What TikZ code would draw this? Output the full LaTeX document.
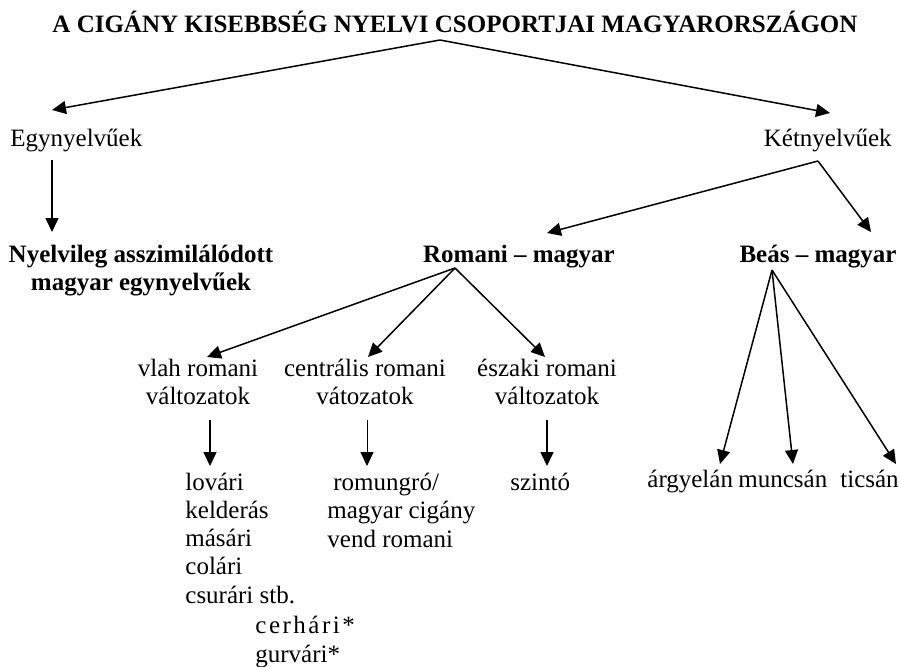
\documentclass[tikz,border=0pt]{standalone}
\usepackage{fontspec}
\setmainfont{Liberation Serif}
\usetikzlibrary{arrows.meta}

\begin{document}
\begin{tikzpicture}[x=0.5pt,y=-0.5pt,
  lbl/.style={inner sep=0pt, font={\fontsize{12.5}{14}\selectfont}},
  bflbl/.style={lbl, font={\fontsize{12.5}{14}\selectfont\bfseries}},
  listlbl/.style={lbl, align=left, font={\fontsize{12.5}{14.1}\selectfont}},
  arr/.style={-{Triangle[length=7pt,width=6.5pt]}, line width=0.75pt},
  thinarr/.style={arr, line width=0.5pt}]
\useasboundingbox (0,0) rectangle (901,666);
% title and first level
\node[bflbl, anchor=base] (title) at (455,32) {A CIGÁNY KISEBBSÉG NYELVI CSOPORTJAI MAGYARORSZÁGON};
\node[lbl, anchor=base west] (egy) at (10,146) {Egynyelvűek};
\node[lbl, anchor=base east] (ket) at (892,146) {Kétnyelvűek};
% second level (multi-line nodes sit on their last baseline)
\node[bflbl, anchor=base, align=center] (nyelv) at (141,290) {Nyelvileg asszimilálódott\\magyar egynyelvűek};
\node[bflbl, anchor=base] (roma) at (519,262) {Romani -- magyar};
\node[bflbl, anchor=base] (beas) at (818,262) {Beás -- magyar};
% romani groups
\node[lbl, anchor=base, align=center] (vlah) at (198,404) {vlah romani\\változatok};
\node[lbl, anchor=base, align=center] (centr) at (365,404) {centrális romani\\vátozatok};
\node[lbl, anchor=base, align=center] (eszaki) at (547,404) {északi romani\\változatok};
% leaves
\node[listlbl, anchor=base west] (lovari) at (185,603) {lovári\\kelderás\\másári\\colári\\csurári stb.};
\node[listlbl, anchor=base west, font={\fontsize{12.5}{14.5}\selectfont}] (cerhari) at (255,662) {{\addfontfeature{LetterSpace=10}cerhári*}\\gurvári*};
\node[listlbl, anchor=base west] (romungro) at (327,547) {\hspace{3pt}romungró/\\magyar cigány\\vend romani};
\node[lbl, anchor=base west] (szinto) at (510,490) {szintó};
\node[lbl, anchor=base west] (argyelan) at (647,487) {árgyelán};
\node[lbl, anchor=base west] (muncsan) at (738,487) {muncsán};
\node[lbl, anchor=base west] (ticsan) at (840,487) {ticsán};
% connectors
\draw[arr] ([shift={(-15,8)}]title.base) -- ([shift={(42,-36)}]egy.base west);
\draw[arr] ([shift={(-15,8)}]title.base) -- ([shift={(-62,-33)}]ket.base east);
\draw[arr] ([shift={(42,14)}]egy.base west) -- ([shift={(-89,-58)}]nyelv.base);
\draw[arr] ([shift={(-74,15)}]ket.base east) -- ([shift={(28,-29)}]roma.base);
\draw[arr] ([shift={(-74,15)}]ket.base east) -- ([shift={(53,-30)}]beas.base);
\draw[arr] ([shift={(-64,6)}]roma.base) -- ([shift={(9,-47)}]vlah.base);
\draw[arr] ([shift={(-64,6)}]roma.base) -- ([shift={(3,-47)}]centr.base);
\draw[arr] ([shift={(-64,6)}]roma.base) -- ([shift={(-2,-47)}]eszaki.base);
\draw[arr] ([shift={(12,16)}]vlah.base) -- ([shift={(25,-137)}]lovari.base west);
\draw[thinarr] ([shift={(2,16)}]centr.base) -- ([shift={(40,-81)}]romungro.base west);
\draw[arr] ([shift={(0,16)}]eszaki.base) -- ([shift={(37,-24)}]szinto.base west);
\draw[arr] ([shift={(-46,8)}]beas.base) -- ([shift={(73,-23)}]argyelan.base west);
\draw[arr] ([shift={(-46,8)}]beas.base) -- ([shift={(55,-23)}]muncsan.base west);
\draw[arr] ([shift={(-46,8)}]beas.base) -- ([shift={(56,-23)}]ticsan.base west);
\end{tikzpicture}
\end{document}
